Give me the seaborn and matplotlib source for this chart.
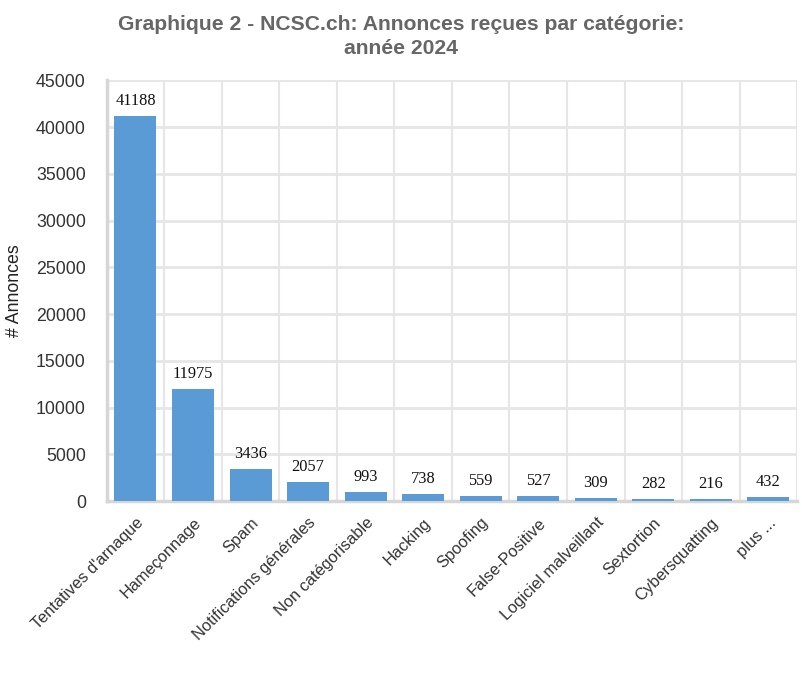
import matplotlib
matplotlib.use("Agg")
import matplotlib.pyplot as plt
import matplotlib.transforms as mtransforms
import seaborn as sns
import pandas as pd
import numpy as np

# data
categories = ["Tentatives d'arnaque", "Hameçonnage", "Spam", "Notifications générales",
              "Non catégorisable", "Hacking", "Spoofing", "False-Positive",
              "Logiciel malveillant", "Sextortion", "Cybersquatting", "plus ..."]
counts = [41188, 11975, 3436, 2057, 993, 738, 559, 527, 309, 282, 216, 432]
y_ticks = [0, 5000, 10000, 15000, 20000, 25000, 30000, 35000, 40000, 45000]

df = pd.DataFrame({"categorie": categories, "annonces": counts})

sns.set_style("white")
plt.rcParams['font.family'] = ['Liberation Sans', 'DejaVu Sans']

grid_col = "#e6e6e6"
axis_col = "#d6d6d6"

fig = plt.figure(figsize=(8.02, 6.8), dpi=100)
ax = fig.add_axes([0.133, 0.263, 0.861, 0.619])

sns.barplot(data=df, x="categorie", y="annonces", color="#5b9bd5", width=0.73,
            saturation=1, linewidth=0, ax=ax, zorder=5)

ax.set_ylim(0, 45000)
ax.set_xlim(-0.5, len(categories) - 0.5)
ax.set_yticks(y_ticks)
ax.set_yticklabels([str(v) for v in y_ticks], fontsize=12.8, color="#333333")
ax.set_xticks(range(len(categories)))
ax.set_xticklabels(categories, rotation=45, ha="right", rotation_mode="anchor",
                   fontsize=11.8, color="#333333")
# nudge rotated labels a little to the left
shift = mtransforms.ScaledTranslation(-4 / 100, 0, fig.dpi_scale_trans)
for lbl in ax.get_xticklabels():
    lbl.set_transform(lbl.get_transform() + shift)

# boundary gridlines between categories (minor ticks)
ax.set_xticks(np.arange(-0.5, len(categories), 1), minor=True)
ax.grid(True, which="minor", axis="x", color=grid_col, linewidth=1.5, zorder=0)
ax.grid(True, which="major", axis="y", color=grid_col, linewidth=2, zorder=0)
ax.tick_params(axis="x", which="major", length=0, pad=10)
ax.tick_params(axis="x", which="minor", length=14, width=1.5, color=grid_col)
ax.tick_params(axis="y", length=13, width=2, color=grid_col, pad=2)

for s in ["top", "right"]:
    ax.spines[s].set_visible(False)
ax.spines["left"].set_color(axis_col)
ax.spines["left"].set_linewidth(2.5)
ax.spines["bottom"].set_color(axis_col)
ax.spines["bottom"].set_linewidth(2.5)
ax.spines["bottom"].set_zorder(2)

ax.set_xlabel("")
ax.set_ylabel("# Annonces", fontsize=12.8, color="#222222", labelpad=9)

for i, v in enumerate(counts):
    ax.annotate(str(v), (i, v), xytext=(0, 5), textcoords="offset points",
                ha="center", va="bottom", fontsize=11.8, color="#111111",
                family=["Liberation Serif", "DejaVu Serif"], zorder=6)

fig.suptitle("Graphique 2 - NCSC.ch: Annonces reçues par catégorie:\nannée 2024",
             x=0.5, y=0.978, fontsize=15.2, fontweight="bold", color="#666666",
             linespacing=1.35)

fig.savefig("out.png", dpi=100)
